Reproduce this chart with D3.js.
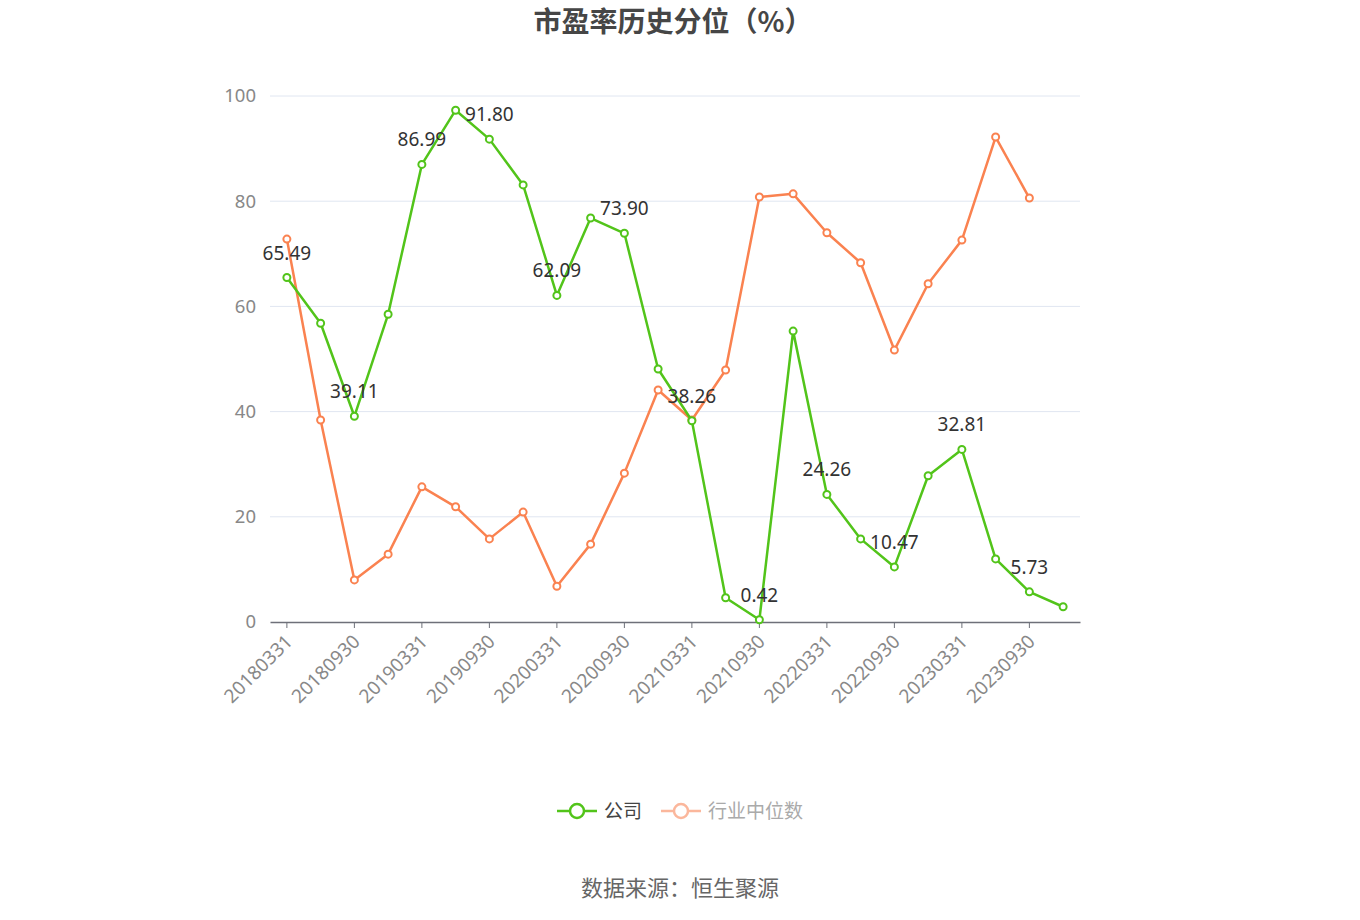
<!DOCTYPE html>
<html>
<head>
<meta charset="utf-8">
<script src="https://cdn.jsdelivr.net/npm/d3@7"></script>
<style>
  body { margin: 0; background: #fff; font-family: "Noto Sans CJK SC", "Noto Sans", sans-serif; }
</style>
</head>
<body>
<div id="chart"></div>
<script>
var dates = ["20180331","20180630","20180930","20181231","20190331","20190630","20190930","20191231",
  "20200331","20200630","20200930","20201231","20210331","20210630","20210930","20211231",
  "20220331","20220630","20220930","20221231","20230331","20230630","20230930","20231231"]
var company = [65.49,56.8,39.11,58.5,86.99,97.3,91.80,83.1,62.09,76.8,73.90,48.1,38.26,4.6,0.42,55.3,
  24.26,15.8,10.47,27.8,32.81,12.0,5.73,2.9]
var industry = [72.8,38.4,8.0,12.9,25.7,21.9,15.8,20.9,6.8,14.8,28.3,44.1,38.4,47.9,80.8,81.4,
  74.0,68.3,51.7,64.3,72.6,92.2,80.6,null]
var yTicks = [0,20,40,60,80,100]
var seriesNames = ["公司","行业中位数"]

var W = 1360, H = 920
var green = "#52c41a", orange = "#fa8250"

var svg = d3.select("#chart").append("svg").attr("width", W).attr("height", H)

var x = d3.scaleBand().domain(dates).range([270, 1080]).padding(0)
var y = d3.scaleLinear().domain([0, 100]).range([622, 96])
function cx(d){ return x(d) + x.bandwidth()/2 }

// title
svg.append("text").attr("x", 673).attr("y", 32).attr("text-anchor", "middle")
  .style("font-size", "28px").style("font-weight", "bold").style("fill", "#464646")
  .text("市盈率历史分位（%）")

// grid
svg.append("g").selectAll("line").data(yTicks.filter(function(d){return d>0})).enter().append("line")
  .attr("x1", 270).attr("x2", 1080)
  .attr("y1", function(d){return y(d)}).attr("y2", function(d){return y(d)})
  .attr("stroke", "#e0e6f1").attr("stroke-width", 1)

svg.append("g").selectAll("text").data(yTicks).enter().append("text")
  .attr("x", 256).attr("y", function(d){return y(d)}).attr("dy", "0.35em")
  .attr("text-anchor", "end").style("font-size", "18.5px").style("fill", "#888")
  .style("font-family", "\"Noto Sans\", sans-serif")
  .text(function(d){return d})

// x axis
var xAxis = d3.axisBottom(x)
  .tickValues(dates.filter(function(d,i){return i%2==0}))
  .tickSize(6).tickSizeOuter(0)
var gx = svg.append("g").attr("transform", "translate(0,622)").call(xAxis)
gx.select(".domain").attr("stroke", "#6e7079").attr("stroke-width", 1.5)
gx.selectAll(".tick line").attr("stroke", "#6e7079")
gx.selectAll(".tick text")
  .style("font-size", "19px").style("fill", "#888")
  .style("font-family", "\"Noto Sans\", sans-serif")
  .attr("text-anchor", "end").attr("x", 0).attr("y", 0).attr("dy", "0.35em")
  .attr("transform", "translate(2,16) rotate(-45)")

// lines
var lineGen = d3.line()
  .defined(function(d){return d.v!=null})
  .x(function(d){return cx(d.k)}).y(function(d){return y(d.v)})

function drawSeries(vals, col){
  var pts = dates.map(function(d,i){return {k:d, v:vals[i], i:i}})
  svg.append("path").datum(pts).attr("d", lineGen)
    .attr("fill", "none").attr("stroke", col).attr("stroke-width", 2.5).attr("stroke-linejoin", "round")
  svg.append("g").selectAll("circle").data(pts.filter(function(d){return d.v!=null})).enter().append("circle")
    .attr("cx", function(d){return cx(d.k)}).attr("cy", function(d){return y(d.v)})
    .attr("r", 3.5).attr("fill", "#fff").attr("stroke", col).attr("stroke-width", 2)
  return pts
}
drawSeries(industry, orange)
var cpts = drawSeries(company, green)

svg.append("g").selectAll("text").data(cpts.filter(function(d){return d.i%2==0})).enter().append("text")
  .attr("x", function(d){return cx(d.k)}).attr("y", function(d){return y(d.v) - 18})
  .attr("text-anchor", "middle").style("font-size", "19px").style("fill", "#333")
  .style("font-family", "\"Noto Sans\", sans-serif")
  .text(function(d){return d.v.toFixed(2)})

// legend
var leg = [{name: seriesNames[0], col: green, x: 557, tc: "#444"},
           {name: seriesNames[1], col: "#fbb79c", x: 661, tc: "#aaa"}]
var lg = svg.append("g").selectAll("g").data(leg).enter().append("g")
  .attr("transform", function(d){return "translate(" + d.x + ",811)"})
lg.append("line").attr("x1", 0).attr("x2", 40).attr("stroke", function(d){return d.col}).attr("stroke-width", 2.5)
lg.append("circle").attr("cx", 20).attr("r", 7).attr("fill", "#fff")
  .attr("stroke", function(d){return d.col}).attr("stroke-width", 2.5)
lg.append("text").attr("x", 47).attr("dy", "0.35em").style("font-size", "19px")
  .style("fill", function(d){return d.tc}).text(function(d){return d.name})

// source
svg.append("text").attr("x", 680).attr("y", 896).attr("text-anchor", "middle")
  .style("font-size", "22px").style("fill", "#666").text("数据来源：恒生聚源")
</script>
</body>
</html>
